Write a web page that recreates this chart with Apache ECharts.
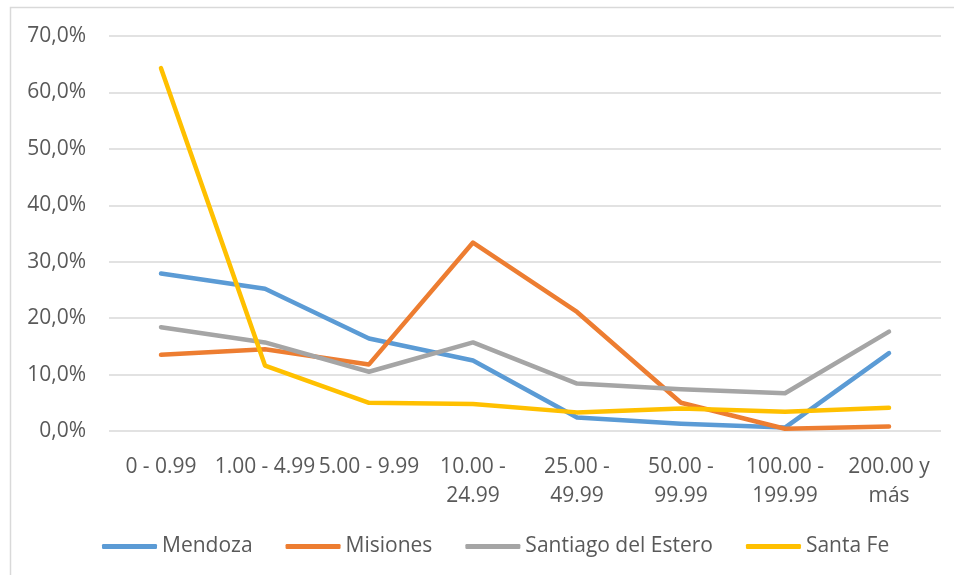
<!DOCTYPE html>
<html>
<head>
<meta charset="utf-8">
<script src="https://cdn.jsdelivr.net/npm/echarts@6/dist/echarts.min.js"></script>
<style>
  html, body { margin: 0; padding: 0; background: #fff; }
  #myCharts { width: 954px; height: 575px; }
</style>
</head>
<body>
<div id="myCharts"></div>
<script>
// rangos de ingreso (eje X)
var categories = ["0 - 0.99", "1.00 - 4.99", "5.00 - 9.99", "10.00 -\n24.99", "25.00 -\n49.99", "50.00 -\n99.99", "100.00 -\n199.99", "200.00 y\nmás"];
// porcentajes por provincia
var mendoza = [27.9, 25.2, 16.4, 12.5, 2.4, 1.3, 0.6, 13.8];
var misiones = [13.5, 14.5, 11.8, 33.4, 21.1, 5.0, 0.4, 0.8];
var santiago = [18.4, 15.7, 10.5, 15.7, 8.4, 7.4, 6.7, 17.6];
var santaFe = [64.3, 11.6, 5.0, 4.8, 3.3, 4.0, 3.4, 4.1];
var seriesNames = ["Mendoza", "Misiones", "Santiago del Estero", "Santa Fe"];
var colors = ["#5B9BD5", "#ED7D31", "#A5A5A5", "#FFC000"];

var font = "'Open Sans', 'Noto Sans', sans-serif";
var textColor = "#595959";

function lineSeries(name, data) {
  return {
    name: name,
    type: "line",
    data: data,
    showSymbol: false,
    symbol: "none",
    lineStyle: { width: 4.5, cap: "round", join: "round" }
  };
}

var chart = echarts.init(document.getElementById("myCharts"));
chart.setOption({
  animation: false,
  color: colors,
  textStyle: { fontFamily: font },
  graphic: [
    {
      type: "polyline",
      shape: { points: [[10.5, 575], [10.5, 7.5], [954, 7.5]] },
      style: { stroke: "#D9D9D9", lineWidth: 1.5, fill: null }
    }
  ],
  grid: { left: 109, right: 13, top: 36, bottom: 144 },
  legend: {
    data: seriesNames,
    left: 97,
    top: 531,
    icon: "roundRect",
    itemWidth: 55,
    itemHeight: 5,
    itemGap: 33,
    textStyle: { color: textColor, fontSize: 21, fontFamily: font }
  },
  xAxis: {
    type: "category",
    boundaryGap: true,
    data: categories,
    axisLine: { show: false },
    axisTick: { show: false },
    axisLabel: {
      interval: 0,
      margin: 22,
      color: textColor,
      fontSize: 21,
      lineHeight: 29,
      fontFamily: font
    }
  },
  yAxis: {
    type: "value",
    min: 0,
    max: 70,
    interval: 10,
    axisLine: { show: false },
    axisTick: { show: false },
    splitLine: { lineStyle: { color: "#D9D9D9", width: 1.5 } },
    axisLabel: {
      margin: 23,
      color: textColor,
      fontSize: 21,
      fontFamily: font,
      formatter: function (v) { return v.toFixed(1).replace(".", ",") + "%"; }
    }
  },
  series: [
    lineSeries(seriesNames[0], mendoza),
    lineSeries(seriesNames[1], misiones),
    lineSeries(seriesNames[2], santiago),
    lineSeries(seriesNames[3], santaFe)
  ]
});
</script>
</body>
</html>
